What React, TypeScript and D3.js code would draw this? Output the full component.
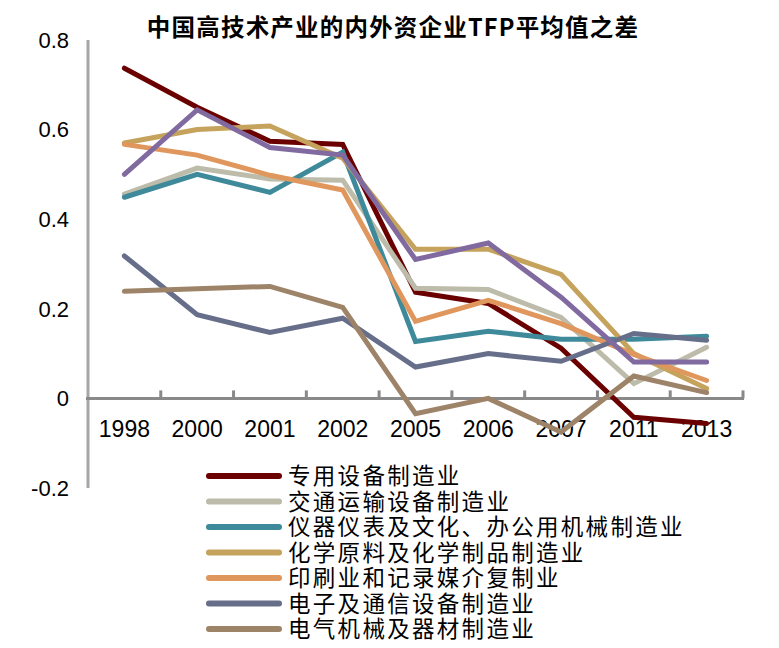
import React from "react";
import * as d3 from "d3";

const years = ["1998", "2000", "2001", "2002", "2005", "2006", "2007", "2011", "2013"];
const yTicks = [-0.2, 0, 0.2, 0.4, 0.6, 0.8];
const yTickLabels = ["-0.2", "0", "0.2", "0.4", "0.6", "0.8"];

const specialEquip = [0.737, 0.65, 0.574, 0.567, 0.237, 0.212, 0.112, -0.042, -0.056];
const transport = [0.456, 0.514, 0.49, 0.487, 0.246, 0.243, 0.181, 0.033, 0.114];
const instruments = [0.449, 0.5, 0.46, 0.55, 0.127, 0.15, 0.132, 0.132, 0.139];
const chemicals = [0.57, 0.6, 0.608, 0.536, 0.333, 0.333, 0.277, 0.1, 0.022];
const printing = [0.567, 0.543, 0.498, 0.465, 0.172, 0.219, 0.167, 0.098, 0.04];
const electronics = [0.318, 0.187, 0.147, 0.179, 0.07, 0.1, 0.083, 0.145, 0.13];
const electrical = [0.239, 0.245, 0.25, 0.203, -0.034, 0.0, -0.075, 0.05, 0.013];
const unlabeled = [0.5, 0.644, 0.56, 0.543, 0.31, 0.347, 0.226, 0.081, 0.081];

const seriesNames = [
  "专用设备制造业",
  "交通运输设备制造业",
  "仪器仪表及文化、办公用机械制造业",
  "化学原料及化学制品制造业",
  "印刷业和记录媒介复制业",
  "电子及通信设备制造业",
  "电气机械及器材制造业",
  "",
];
const seriesValues = [specialEquip, transport, instruments, chemicals, printing, electronics, electrical, unlabeled];
const seriesColors = ["#6B0000", "#BDBCAA", "#3E8A9A", "#C5A35C", "#E0975E", "#676E8A", "#9D8469", "#806A9F"];

const title = "中国高技术产业的内外资企业TFP平均值之差";

export default function App() {
  const W = 779;
  const H = 648;
  const x = d3.scaleBand<string>().domain(years).range([88, 743]).padding(0);
  const y = d3.scaleLinear().domain([-0.2, 0.8]).range([488, 40]);
  const line = d3
    .line<number>()
    .x((_, i) => (x(years[i]) as number) + x.bandwidth() / 2)
    .y((d) => y(d));

  const boundaries = years.map((yr) => (x(yr) as number) + x.bandwidth());
  const y0 = y(0);
  const cjk = "'Noto Sans CJK SC', 'Noto Sans', sans-serif";
  const latin = "'Liberation Sans', Arial, sans-serif";

  const legendItems = seriesNames
    .map((n, i) => ({ name: n, color: seriesColors[i] }))
    .filter((d) => d.name !== "");

  return (
    <svg
      width={W}
      height={H}
      style={{ position: "absolute", left: 0, top: 0, background: "#fff" }}
    >
      <rect x={0} y={0} width={W} height={H} fill="#fff" />
      <text
        x={393}
        y={36}
        textAnchor="middle"
        fontFamily={cjk}
        fontWeight="bold"
        fontSize={23.5}
        letterSpacing={1.2}
        fill="#000"
      >
        {title}
      </text>

      {/* y axis */}
      <line x1={88} x2={88} y1={y(0.8)} y2={y(-0.2)} stroke="#A6A6A6" strokeWidth={3} />
      {yTicks.map((t, i) => (
        <text
          key={t}
          x={69}
          y={y(t)}
          dy="0.35em"
          textAnchor="end"
          fontFamily={latin}
          fontSize={22}
          fill="#000"
        >
          {yTickLabels[i]}
        </text>
      ))}

      {/* x axis */}
      <line x1={86} x2={744} y1={y0} y2={y0} stroke="#898989" strokeWidth={3} />
      {boundaries.map((bx, i) => (
        <line key={i} x1={bx} x2={bx} y1={y0} y2={y0 - 8} stroke="#898989" strokeWidth={3} />
      ))}
      {years.map((yr) => (
        <text
          key={yr}
          x={(x(yr) as number) + x.bandwidth() / 2}
          y={437}
          textAnchor="middle"
          fontFamily={latin}
          fontSize={23}
          fill="#000"
        >
          {yr}
        </text>
      ))}

      {/* series */}
      {seriesValues.map((vals, i) => (
        <path
          key={i}
          d={line(vals) as string}
          fill="none"
          stroke={seriesColors[i]}
          strokeWidth={5}
          strokeLinejoin="miter"
          strokeLinecap="round"
        />
      ))}

      {/* legend */}
      {legendItems.map((d, i) => {
        const ly = 476 + i * 25.5;
        return (
          <g key={d.name}>
            <line x1={209} x2={279} y1={ly} y2={ly} stroke={d.color} strokeWidth={6} strokeLinecap="round" />
            <text
              x={288}
              y={ly}
              dy="0.36em"
              fontFamily={cjk}
              fontSize={22.5}
              letterSpacing={2.3}
              fill="#000"
            >
              {d.name}
            </text>
          </g>
        );
      })}
    </svg>
  );
}
